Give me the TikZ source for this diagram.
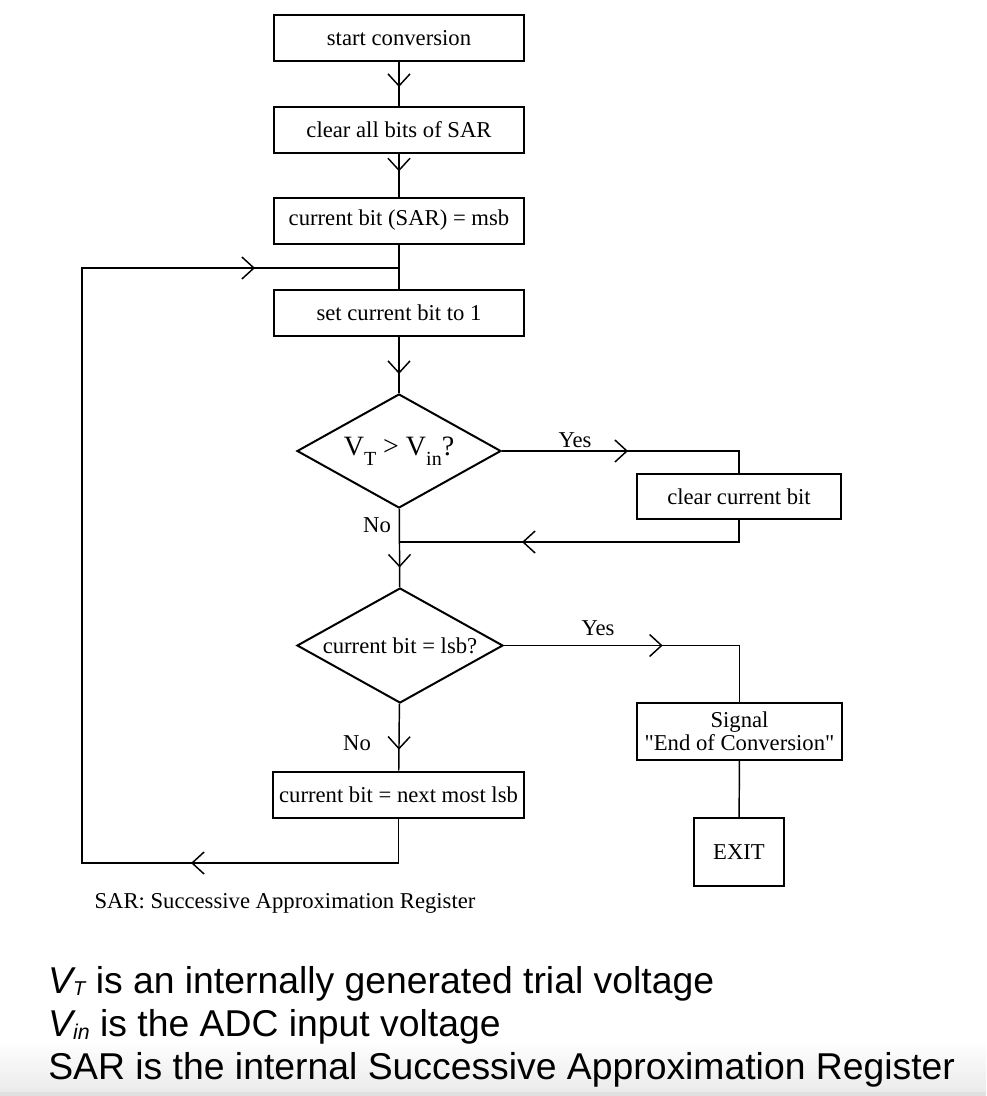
\documentclass[tikz,border=0pt]{standalone}
\usepackage{fontspec}
\setmainfont{Liberation Serif}
\newfontfamily\plainserif{Liberation Serif}
\newfontfamily\arialfont{Liberation Sans}
\usetikzlibrary{arrows.meta}
\usetikzlibrary{shapes.geometric}
\usetikzlibrary{decorations.markings}

\tikzset{
box/.style={draw, line width=1.5pt, inner sep=0pt, minimum width=188pt, minimum height=34.5pt, font=\plainserif\fontsize{17}{17}\selectfont},
test/.style={draw, diamond, aspect=1.79, line width=1.5pt, inner sep=0pt, minimum width=153pt, minimum height=85.5pt, font=\plainserif\fontsize{17}{17}\selectfont},
lbl/.style={inner sep=0pt, font=\plainserif\fontsize{17}{17}\selectfont},
note/.style={anchor=base west, inner sep=0pt, font=\arialfont\fontsize{28}{28}\selectfont},
flow/.style={line width=1.1pt},
chevat/.style={postaction={decorate, decoration={markings, mark=at position #1 with {\arrow{Straight Barb[length=9pt,width=16.5pt]}}}}}
}

\begin{document}
\begin{tikzpicture}[x=0.75pt,y=-0.75pt]
\useasboundingbox (0,0) rectangle (986,1096);
\shade[top color=white, bottom color=gray!16] (0,1040) rectangle (986,1092);
\fill[gray!24] (0,1092) rectangle (986,1096);

\node[box] (start) at (399,38) {start conversion};
\node[box] (clear) at (399,130) {clear all bits of SAR};
\node[box] (msb) at (399,220.5) {current bit (SAR) = msb};
\node[box] (setbit) at (399,313) {set current bit to 1};
\node[test, font=\plainserif\fontsize{21}{21}\selectfont] (cmp) at (399,451)
  {V\raisebox{-7.5pt}{\fontsize{15}{15}\selectfont T} > V\raisebox{-7.5pt}{\fontsize{15}{15}\selectfont in}?};
\node[box, minimum width=153pt, minimum height=33.75pt] (clrbit) at (739,496.5) {clear current bit};
\node[test, minimum width=154.5pt, minimum height=86.25pt] (last) at (400,645.5) {current bit = lsb?};
\node[box, minimum width=153.75pt, minimum height=42.75pt, align=center] (eoc) at (739.5,731.5) {Signal\\"End of Conversion"};
\node[box, minimum width=67.5pt, minimum height=51pt] (exit) at (739,852) {EXIT};
\node[box] (next) at (398.5,794.5) {current bit = next most lsb};

\coordinate (join) at (399,268);
\coordinate (merge) at (399,542);
\coordinate (loopcorner) at (82,863);

\draw[flow, chevat=18.75pt] (start) -- (clear);
\draw[flow, chevat=13pt] (clear) -- (msb);
\draw[flow] (msb) -- (setbit);
\draw[flow, chevat=27.75pt] (setbit) -- (cmp);
\draw[flow, chevat=44pt] (cmp) -- (last);
\draw[flow, chevat=34.5pt] (last) -- (next);
\draw[flow, chevat=94.5pt] (cmp.east) -| (clrbit.north);
\draw[flow, chevat=179.25pt] (clrbit.south) |- (merge);
\draw[flow, chevat=119pt] (last.east) -| (eoc.north);
\draw[flow] (eoc) -- (exit);
\draw[flow, chevat=189pt, chevat=846.75pt] (next.south) |- (loopcorner) |- (join);

\node[lbl] (yes1) at (575,440) {Yes};
\node[lbl] (no1) at (377,525) {No};
\node[lbl] (yes2) at (598,628) {Yes};
\node[lbl] (no2) at (357,743) {No};
\node[lbl] (sarnote) at (285,903) {SAR: Successive Approximation Register};

\node[note] (vt) at (48,993) {\itshape V\raisebox{-2pt}{\fontsize{15}{15}\selectfont T}\upshape{} is an internally generated trial voltage};
\node[note] (vin) at (48,1036) {\itshape V\raisebox{-2.25pt}{\fontsize{16}{16}\selectfont in}\upshape{} is the ADC input voltage};
\node[note] (sar) at (48,1079) {SAR is the internal Successive Approximation Register};
\end{tikzpicture}
\end{document}
